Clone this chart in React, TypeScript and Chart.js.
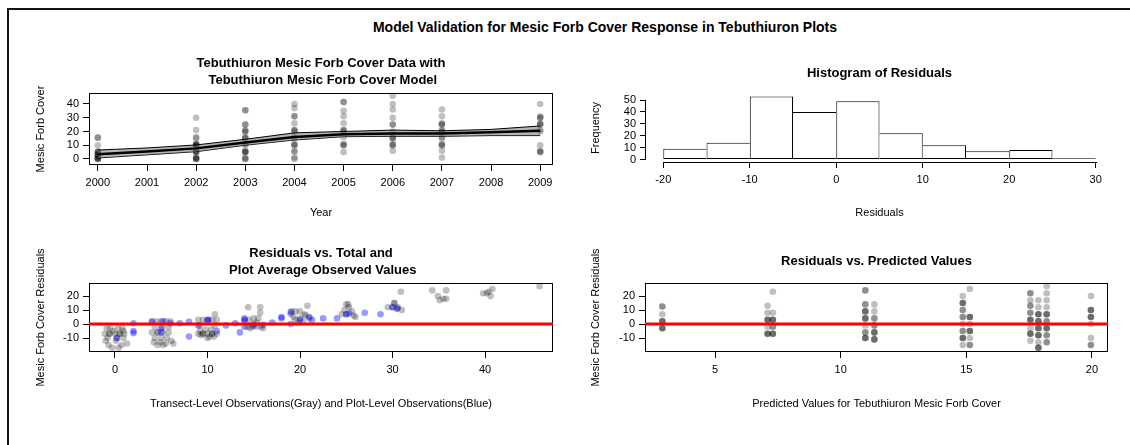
import React, { useEffect, useRef } from 'react';
import { Chart, registerables } from 'chart.js';

Chart.register(...registerables);

const FONT = "'Liberation Sans', Arial, Helvetica, sans-serif";
const INK = '#000000';

// ---------------- text ----------------
const mainTitle = 'Model Validation for Mesic Forb Cover Response in Tebuthiuron Plots';
const p1Title = ['Tebuthiuron Mesic Forb Cover Data with', ' Tebuthiuron Mesic Forb Cover Model'];
const p2Title = 'Histogram of Residuals';
const p3Title = ['Residuals vs. Total and', ' Plot Average Observed Values'];
const p4Title = 'Residuals vs. Predicted Values';

// ---------------- panel 1: data + model ----------------
const modelYears = [2000, 2001, 2002, 2003, 2004, 2005, 2006, 2007, 2008, 2009];
const modelMean = [3.5, 5.5, 7.7, 12, 16, 18, 18.5, 18.5, 19.5, 20.5];
const modelUpper = [6.5, 8, 10.2, 14.3, 19, 20, 21, 20.5, 21.5, 24];
const modelLower = [0.7, 3, 5.3, 10, 13.8, 16.2, 16.5, 16.5, 17, 17];
const obsYears = [2000, 2002, 2003, 2004, 2005, 2006, 2007, 2009];
const coverByYear = [
  [15.5, 15.5, 10, 5.5, 5, 5, 4, 3, 3, 2, 1, 1, 0, 0, 0],
  [30, 21, 16, 15, 11, 11, 10, 10, 10, 9, 8, 6, 5, 5, 5, 1, 1, 0, 0, 0],
  [35.5, 35.5, 25, 25, 21, 20, 20, 16, 15, 15, 11, 10, 6, 5, 5, 5, 1, 0, 0],
  [40, 37, 31, 31, 26, 21, 21, 20, 16, 15, 11, 10, 10, 6, 5, 1, 0],
  [41.5, 41.5, 35, 31, 26, 21, 21, 20, 16, 11, 10, 10, 5],
  [46, 40, 36, 30, 25, 25, 20, 16, 15, 15, 11, 10, 10, 6],
  [36, 31, 26, 25, 25, 21, 20, 20, 16, 15, 11, 10, 10, 6, 1],
  [40, 31, 30, 30, 26, 25, 25, 21, 20, 10, 6, 5, 5],
];
const yearTicks = [2000, 2001, 2002, 2003, 2004, 2005, 2006, 2007, 2008, 2009];
const coverTicks = [0, 10, 20, 30, 40];

// ---------------- panel 2: histogram ----------------
const binStarts = [-20, -15, -10, -5, 0, 5, 10, 15, 20, 25];
const binWidth = 5;
const binCounts = [9, 14, 53, 40, 49, 22, 12, 7, 8, 1];
const histXTicks = [-20, -10, 0, 10, 20, 30];
const histYTicks = [0, 10, 20, 30, 40, 50];

// ---------------- panel 3: residuals vs observed ----------------
const transectResid: [number, number][] = [
  [-0.9, -3], [-0.5, -3], [0.3, -3], [0.8, -3], [-1.1, -7], [-0.6, -7], [-0.6, -7], [0, -7], [0.5, -7], [0.5, -7],
  [1, -7], [-0.8, -10], [0.2, -10], [0.9, -10], [-1, -12], [0.1, -12], [-0.7, -15], [0.7, -15], [1.3, -14], [-0.3, -17],
  [0.4, -17], [0.9, -5], [-0.2, -5],
  [4, 2], [4.5, 2], [5, 2], [5.5, 2], [6, 2], [4.3, -2], [5.1, -2], [5.8, -2], [4, -6], [4.6, -6], [4.6, -6], [5.2, -6],
  [5.8, -6], [4.3, -10], [5, -10], [5.6, -10], [4.2, -13], [4.9, -13], [5.5, -14], [6.1, -12], [5.2, -15], [4.6, -15], [6.3, -14],
  [9, 3], [9.5, 3], [10, 3], [10.5, 3], [9.2, -1], [10.8, -1], [9, -7], [9.5, -7], [9.5, -7], [10, -7], [10.5, -7], [10.5, -7],
  [11, -7], [9.3, -8], [10.2, -9], [10.7, -9], [10.8, 7], [11, 3], [9.8, -4], [10.4, -4], [10, -10], [9.2, -5],
  [14.4, 12], [15.7, 12], [15.7, 8], [14, 3], [14.5, 3], [15, 4], [15.5, 4], [14.3, -2], [14.8, -2], [15.3, -2], [15.8, -2],
  [16, -3], [14.6, -3], [15, 0], [15.3, 1],
  [19.5, 9], [20, 9], [19, 7], [20.5, 7], [20, 4], [19.5, 3], [20.8, 13], [21, 4], [19.8, 1], [20.3, 2], [19.3, 5], [20.6, 6], [19.1, 9],
  [24.5, 7], [25, 7], [25.2, 14], [25.3, 12], [25.6, 9], [25.8, 6], [24.8, 10], [26, 5], [25, 14],
  [29.5, 12], [30, 12], [30.2, 15], [30.5, 11], [31, 10], [30.9, 23], [30.6, 12], [30.2, 15],
  [34.3, 24], [34.9, 20], [35.5, 18], [35.8, 24], [35.8, 18], [35.1, 17],
  [39.8, 22], [40.2, 22], [40.6, 20], [40.8, 25], [40.4, 23],
  [45.9, 27],
];
const plotResid: [number, number][] = [
  [0.2, -10], [2, 0.5], [2, -5], [2, -6.5], [4, 1.5], [5, -3], [5, -6], [5.2, 2], [6, 0.5], [7, 0.5], [8, 1.5], [8, -9],
  [10, 2.5], [10.1, 3], [11, -5], [9, -1], [12, -1], [13, 0.5], [13.5, -6], [14, 4], [14, 2.5], [14, -2], [15, -1],
  [16, -0.5], [17, 1], [18, 4], [18, 5], [19, 8.5], [19, 0], [20, 3], [21, 5], [21.3, 3], [22.5, 4], [24, 4], [25, 7],
  [25.3, 7.5], [27, 8], [28.7, 7], [30, 12], [30.5, 11],
];
const obsXTicks = [0, 10, 20, 30, 40];
const residYTicks = [-10, 0, 10, 20];

// ---------------- panel 4: residuals vs predicted ----------------
const predValues = [2.9, 7.09, 7.3, 10.98, 11.34, 14.86, 15.14, 17.55, 17.87, 18.2, 19.96];
const residByPred = [
  [12.5, 12.5, 7, 2, 2, 2, -3, -3, -3],
  [13, 8, 3, 3, 3, -2, -7, -7, -7],
  [23, 8, 3, 3, 3, -2, -2, -7, -7, -7],
  [24, 24, 14, 14, 9, 9, 9, 4, 4, 4, -1, -6, -6, -10, -10, -10],
  [14, 9, 4, 4, -1, -1, -6, -6, -6, -11, -11, -11],
  [20, 15, 15, 15, 10, 10, 5, 5, 0, -5, -5, -10, -10, -10, -15],
  [25, 5, 5, 5, 0, -5, -5, -5, -10, -15, -15],
  [22, 22, 17, 13, 13, 8, 8, 3, 3, 3, -3, -7, -7, -7, -12],
  [17, 12, 7, 7, 7, 2, 2, 2, -3, -3, -3, -8, -8, -8, -13, -17, -17, -17],
  [27, 22, 17, 12, 7, 7, 7, 2, 2, -3, -3, -3, -8, -8, -13, -13],
  [20, 10, 10, 10, 5, 5, 5, 0, -10, -15, -15],
];
const predXTicks = [5, 10, 15, 20];
const zeroResidual = 0;

// ---------------- styling helpers ----------------
const GRAY_PT = 'rgba(0,0,0,0.25)';
const BLUE_PT = 'rgba(0,0,255,0.4)';

function rAxis(
  min: number, max: number, ticks: number[], title: string, horizontal: boolean, size: number, tickPad: number,
) {
  return {
    type: 'linear',
    min,
    max,
    bounds: 'data',
    offset: false,
    afterBuildTicks: (s: any) => {
      s.ticks = ticks.map((v) => ({ value: v }));
    },
    afterFit: (s: any) => {
      if (horizontal) s.height = size;
      else s.width = size;
    },
    grid: {
      display: true, drawOnChartArea: false, drawTicks: true, tickLength: 6, color: INK, lineWidth: 1, offset: false,
    },
    border: { display: false },
    ticks: {
      autoSkip: false, maxRotation: 0, minRotation: 0, padding: tickPad, color: INK,
      font: { family: FONT, size: 11 },
      callback: (v: any) => String(v),
    },
    title: {
      display: true, text: title, color: INK, font: { family: FONT, size: 11 }, padding: { top: 4, bottom: 4 },
    },
  };
}

function rTitle(text: string | string[], padTop: number, padBottom: number) {
  return {
    display: true, text, fullSize: false, color: INK,
    font: { family: FONT, size: 13, weight: 'bold', lineHeight: 17 / 13 },
    padding: { top: padTop, bottom: padBottom },
  };
}

const rBoxPlugin = {
  id: 'rBox',
  afterDatasetsDraw(chart: any, _a: any, opts: any) {
    if (!opts || !opts.show) return;
    const { ctx, chartArea: a } = chart;
    const l = Math.round(a.left) + 0.5;
    const t = Math.round(a.top) + 0.5;
    const r = Math.round(a.right) - 0.5;
    const b = Math.round(a.bottom) - 0.5;
    ctx.save();
    ctx.strokeStyle = INK;
    ctx.lineWidth = 1;
    ctx.strokeRect(l, t, r - l, b - t);
    ctx.restore();
  },
};

const zeroLinePlugin = {
  id: 'zeroLine',
  afterDatasetsDraw(chart: any, _a: any, opts: any) {
    if (!opts || opts.value === undefined) return;
    const { ctx, chartArea: a, scales } = chart;
    const y = scales.y.getPixelForValue(opts.value);
    ctx.save();
    ctx.strokeStyle = opts.color;
    ctx.lineWidth = opts.width;
    ctx.beginPath();
    ctx.moveTo(a.left, y);
    ctx.lineTo(a.right, y);
    ctx.stroke();
    ctx.restore();
  },
};

const histAxesPlugin = {
  id: 'histAxes',
  afterDraw(chart: any, _a: any, opts: any) {
    if (!opts || !opts.xTicks) return;
    const { ctx, chartArea: a, scales } = chart;
    const xs = opts.xTicks;
    const ys = opts.yTicks;
    const x0 = scales.x.getPixelForValue(xs[0]);
    const x1 = scales.x.getPixelForValue(xs[xs.length - 1]);
    const y0 = scales.y.getPixelForValue(ys[0]);
    const y1 = scales.y.getPixelForValue(ys[ys.length - 1]);
    const by = Math.round(a.bottom) + 0.5;
    const lx = Math.round(a.left) - 0.5;
    ctx.save();
    ctx.strokeStyle = INK;
    ctx.lineWidth = 1;
    ctx.beginPath();
    ctx.moveTo(Math.round(x0), by);
    ctx.lineTo(Math.round(x1) + 1, by);
    ctx.moveTo(lx, Math.round(y0) + 1);
    ctx.lineTo(lx, Math.round(y1));
    ctx.stroke();
    ctx.restore();
  },
};

const basePlugins = {
  legend: { display: false },
  tooltip: { enabled: false },
};

// ---------------- layout (pixels) ----------------
const L1 = { x: 30, y: 44, w: 543, h: 180, yW: 59, xH: 59, padR: 20, tTop: 10.5, tBot: 4.5 };
const L2 = { x: 585, y: 54, w: 543, h: 170, yW: 61, xH: 62, padR: 15, tTop: 10.5, tBot: 12.5 };
const L3 = { x: 30, y: 234, w: 543, h: 181, yW: 59, xH: 63, padR: 20, tTop: 10.5, tBot: 4.5 };
const L4 = { x: 585, y: 242, w: 543, h: 173, yW: 60, xH: 63, padR: 20, tTop: 10.5, tBot: 13.5 };

function config1(): any {
  const pts: { x: number; y: number }[] = [];
  obsYears.forEach((yr, i) => coverByYear[i].forEach((v) => pts.push({ x: yr, y: v })));
  const line = (vals: number[]) => modelYears.map((yr, i) => ({ x: yr, y: vals[i] }));
  return {
    type: 'line',
    data: {
      datasets: [
        { data: line(modelMean), borderColor: INK, borderWidth: 2.5, pointRadius: 0, fill: false, tension: 0 },
        { data: line(modelUpper), borderColor: INK, borderWidth: 1, pointRadius: 0, fill: '+1', backgroundColor: 'rgba(120,120,120,0.55)', tension: 0 },
        { data: line(modelLower), borderColor: INK, borderWidth: 1, pointRadius: 0, fill: false, tension: 0 },
        { data: pts, showLine: false, pointRadius: 3.3, pointBorderWidth: 0, pointBackgroundColor: GRAY_PT, pointHoverRadius: 3.3 },
      ],
    },
    options: {
      animation: false, responsive: false, events: [],
      layout: { padding: { left: 0, top: 0, right: L1.padR, bottom: 0 } },
      scales: {
        x: rAxis(1999.82, 2009.26, yearTicks, 'Year', true, L1.xH, 5),
        y: rAxis(-4.4, 48, coverTicks, 'Mesic Forb Cover', false, L1.yW, 4),
      },
      plugins: { ...basePlugins, title: rTitle(p1Title, L1.tTop, L1.tBot), rBox: { show: true } },
    },
    plugins: [rBoxPlugin],
  };
}

function config2(): any {
  const last = binCounts.length - 1;
  const widthFor = (i: number) => {
    const c = binCounts[i];
    const prev = i > 0 ? binCounts[i - 1] : -1;
    const next = i < last ? binCounts[i + 1] : -1;
    return { top: 1, bottom: 1, left: c > prev || i === 0 ? 1 : 0, right: c >= next || i === last ? 1 : 0 };
  };
  return {
    type: 'bar',
    data: {
      datasets: [
        {
          data: binStarts.map((s, i) => ({ x: s + binWidth / 2, y: binCounts[i] })),
          backgroundColor: '#ffffff',
          borderColor: INK,
          borderWidth: (ctx: any) => widthFor(ctx.dataIndex),
          borderSkipped: false,
          barPercentage: 1,
          categoryPercentage: 1,
          inflateAmount: 0,
        },
      ],
    },
    options: {
      animation: false, responsive: false, events: [],
      layout: { padding: { left: 0, top: 0, right: L2.padR, bottom: 0 } },
      scales: {
        x: rAxis(-22, 32, histXTicks, 'Residuals', true, L2.xH, 5),
        y: rAxis(-2.12, 55.12, histYTicks, 'Frequency', false, L2.yW, 4),
      },
      plugins: { ...basePlugins, title: rTitle(p2Title, L2.tTop, L2.tBot), histAxes: { xTicks: histXTicks, yTicks: histYTicks } },
    },
    plugins: [histAxesPlugin],
  };
}

function config3(): any {
  return {
    type: 'scatter',
    data: {
      datasets: [
        { data: plotResid.map(([x, y]) => ({ x, y })), pointRadius: 3.3, pointBorderWidth: 0, pointBackgroundColor: BLUE_PT, pointHoverRadius: 3.3 },
        { data: transectResid.map(([x, y]) => ({ x, y })), pointRadius: 3.3, pointBorderWidth: 0, pointBackgroundColor: GRAY_PT, pointHoverRadius: 3.3 },
      ],
    },
    options: {
      animation: false, responsive: false, events: [],
      layout: { padding: { left: 0, top: 0, right: L3.padR, bottom: 0 } },
      scales: {
        x: rAxis(-2.81, 47.35, obsXTicks, 'Transect-Level Observations(Gray) and Plot-Level Observations(Blue)', true, L3.xH, 5),
        y: rAxis(-20, 29.3, residYTicks, 'Mesic Forb Cover Residuals', false, L3.yW, 4),
      },
      plugins: {
        ...basePlugins, title: rTitle(p3Title, L3.tTop, L3.tBot), rBox: { show: true },
        zeroLine: { value: zeroResidual, color: '#ff0000', width: 3 },
      },
    },
    plugins: [rBoxPlugin, zeroLinePlugin],
  };
}

function config4(): any {
  const pts: { x: number; y: number }[] = [];
  predValues.forEach((p, i) => residByPred[i].forEach((r) => pts.push({ x: p, y: r })));
  return {
    type: 'scatter',
    data: {
      datasets: [
        { data: pts, pointRadius: 3.3, pointBorderWidth: 0, pointBackgroundColor: GRAY_PT, pointHoverRadius: 3.3 },
      ],
    },
    options: {
      animation: false, responsive: false, events: [],
      layout: { padding: { left: 0, top: 0, right: L4.padR, bottom: 0 } },
      scales: {
        x: rAxis(2.21, 20.64, predXTicks, 'Predicted Values for Tebuthiuron Mesic Forb Cover', true, L4.xH, 5),
        y: rAxis(-20, 29.3, residYTicks, 'Mesic Forb Cover Residuals', false, L4.yW, 4),
      },
      plugins: {
        ...basePlugins, title: rTitle(p4Title, L4.tTop, L4.tBot), rBox: { show: true },
        zeroLine: { value: zeroResidual, color: '#ff0000', width: 3 },
      },
    },
    plugins: [rBoxPlugin, zeroLinePlugin],
  };
}

type Lay = { x: number; y: number; w: number; h: number };

function Panel({ lay, make }: { lay: Lay; make: () => any }) {
  const ref = useRef<HTMLCanvasElement | null>(null);
  useEffect(() => {
    if (!ref.current) return;
    const chart = new Chart(ref.current, make());
    return () => chart.destroy();
  }, []);
  return (
    <canvas
      ref={ref}
      width={lay.w}
      height={lay.h}
      style={{ position: 'absolute', left: lay.x, top: lay.y, width: lay.w, height: lay.h }}
    />
  );
}

export default function App() {
  Chart.defaults.font.family = FONT;
  Chart.defaults.color = INK;
  return (
    <div style={{ position: 'fixed', left: 0, top: 0, width: 1130, height: 445, background: '#fff', overflow: 'hidden' }}>
      <div
        style={{
          position: 'absolute', left: 7, top: 8, width: 1123, height: 437,
          borderTop: '2px solid #111', borderLeft: '2px solid #111', boxSizing: 'border-box',
        }}
      />
      <div
        style={{
          position: 'absolute', left: 205, top: 18, width: 800, textAlign: 'center',
          font: `bold 14px ${FONT}`, lineHeight: '18px', color: INK,
        }}
      >
        {mainTitle}
      </div>
      <Panel lay={L1} make={config1} />
      <Panel lay={L2} make={config2} />
      <Panel lay={L3} make={config3} />
      <Panel lay={L4} make={config4} />
    </div>
  );
}
